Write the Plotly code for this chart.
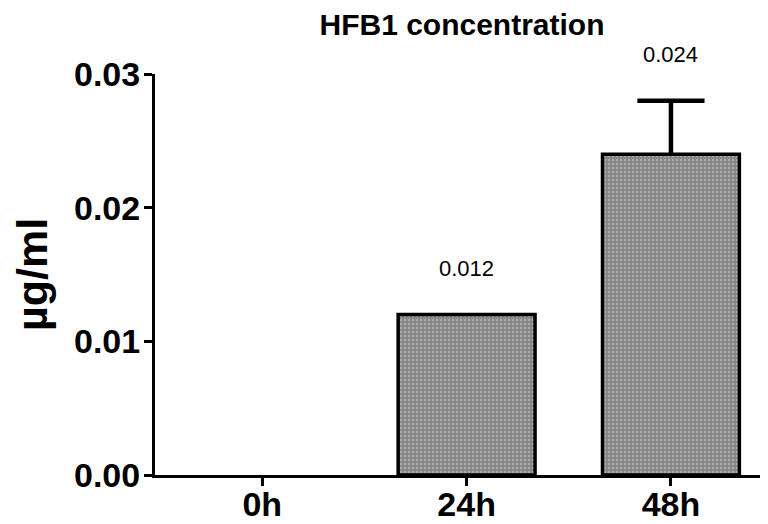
import plotly.graph_objects as go

categories = ["0h", "24h", "48h"]
values = [0.0, 0.012, 0.024]
errors_up = [0.0, 0.0, 0.004]
value_labels = ["", "0.012", "0.024"]
y_ticks = [0.0, 0.01, 0.02, 0.03]
y_tick_labels = ["0.00", "0.01", "0.02", "0.03"]

FONT = "Liberation Sans, Arial, sans-serif"
W, H = 760, 516  # page body adds an 8px margin

fig = go.Figure()
fig.add_trace(go.Bar(
    x=categories,
    y=values,
    width=0.67,
    marker=dict(
        color="#858585",
        line=dict(color="black", width=[0 if v == 0 else 3.5 for v in values]),
        pattern=dict(shape=".", fgcolor="#d2d2d2", bgcolor="#858585", size=4, solidity=0.35),
    ),
    cliponaxis=False,
))

# upward-only error bars: stem via error_y (no caps), cap via a line marker at the top
err_idx = [i for i, e in enumerate(errors_up) if e > 0]
fig.add_trace(go.Scatter(
    x=[categories[i] for i in err_idx],
    y=[values[i] + errors_up[i] for i in err_idx],
    mode="markers",
    marker=dict(symbol="line-ew", size=48, line=dict(color="black", width=4.5), color="black"),
    error_y=dict(type="data", symmetric=False,
                 array=[0 for _ in err_idx],
                 arrayminus=[errors_up[i] for i in err_idx],
                 color="black", thickness=4.5, width=0),
    cliponaxis=False, hoverinfo="skip",
))

for c, v, e, lab in zip(categories, values, errors_up, value_labels):
    if lab:
        fig.add_annotation(x=c, y=v + e, text=lab, showarrow=False, yanchor="middle",
                           yshift=46, font=dict(family=FONT, size=22, color="black"))

fig.update_layout(
    width=W, height=H,
    margin=dict(l=147, r=0, t=66, b=49, autoexpand=False),
    paper_bgcolor="white", plot_bgcolor="white",
    showlegend=False,
    title=dict(text="HFB1 concentration", x=454 / W, xanchor="center", y=1 - 16 / H, yanchor="middle",
               font=dict(family=FONT, size=30, color="black", weight="bold")),
)
fig.update_xaxes(
    range=[-0.525, 2.475], automargin=False,
    showline=True, linecolor="black", linewidth=3,
    ticks="outside", ticklen=8, tickwidth=3, tickcolor="black",
    ticklabelstandoff=-11,
    tickfont=dict(family=FONT, size=34, color="black", weight="bold"),
    showgrid=False, zeroline=False,
)
fig.update_yaxes(
    range=[0, 0.03], automargin=False,
    tickvals=y_ticks, ticktext=y_tick_labels,
    showline=True, linecolor="black", linewidth=3,
    ticks="outside", ticklen=8, tickwidth=3, tickcolor="black",
    ticklabelstandoff=-3,
    tickfont=dict(family=FONT, size=34, color="black", weight="bold"),
    title=dict(text="µg/ml", font=dict(family=FONT, size=43, color="black", weight="bold"), standoff=26),
    showgrid=False, zeroline=False,
)

fig.write_html("out.html")
